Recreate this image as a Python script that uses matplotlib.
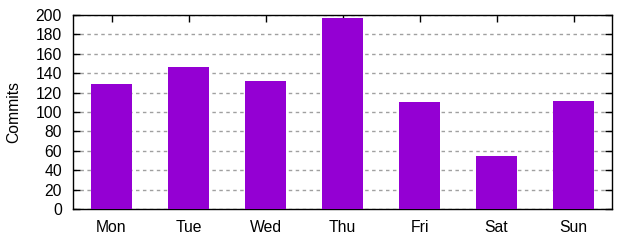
import matplotlib
matplotlib.use("Agg")
import matplotlib.pyplot as plt

days = ["Mon", "Tue", "Wed", "Thu", "Fri", "Sat", "Sun"]
commits = [129, 146, 132, 197, 110, 55, 111]
yticks = list(range(0, 201, 20))

plt.rcParams["font.family"] = ["Liberation Sans", "DejaVu Sans"]
plt.rcParams["font.size"] = 11.3

fig = plt.figure(figsize=(6.4, 2.4), dpi=100)
ax = fig.add_axes([73 / 640, 31 / 240, 539 / 640, 194 / 240])

x = list(range(len(days)))
ax.bar(x, commits, width=0.52, color="#9400d3", zorder=3)

ax.set_xlim(-0.5, len(days) - 0.5)
ax.set_ylim(0, 200)
ax.set_xticks(x)
ax.set_xticklabels(days)
ax.set_yticks(yticks)
ax.set_ylabel("Commits", labelpad=10)

ax.grid(axis="y", color="#a0a0a0", linestyle=(0, (2.5, 2.5)), linewidth=1, zorder=0)
ax.tick_params(direction="in", length=5, width=1, color="black",
               top=True, right=True, bottom=False)
ax.tick_params(axis="y", pad=8)
ax.tick_params(axis="x", pad=8)
for s in ax.spines.values():
    s.set_linewidth(1)
    s.set_color("black")

fig.savefig("out.png", dpi=100)
